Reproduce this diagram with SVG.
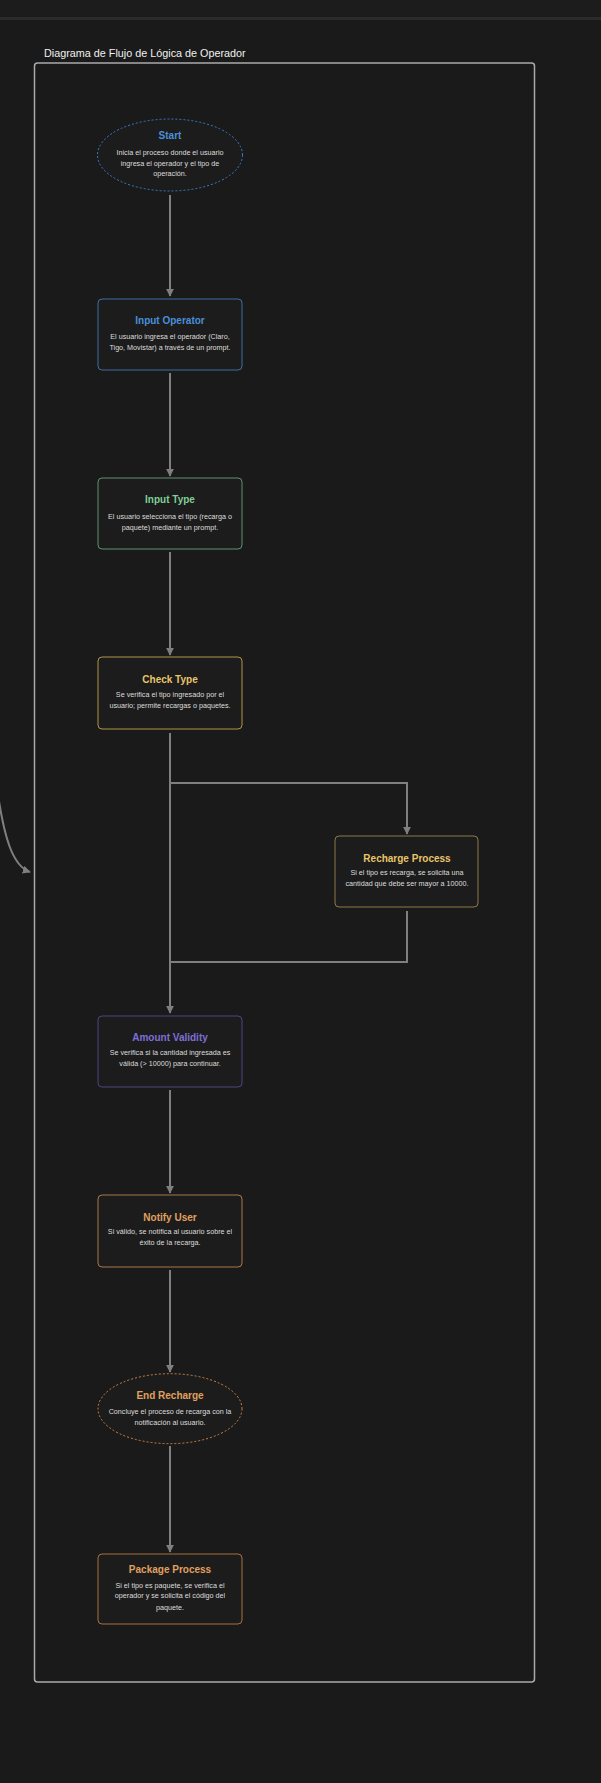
<svg xmlns="http://www.w3.org/2000/svg" width="601" height="1783" viewBox="0 0 601 1783">
<style>
.t{font-family:"Liberation Sans",Arial,sans-serif;font-weight:bold;font-size:10px;text-anchor:middle}
.b{font-family:"Liberation Sans",Arial,sans-serif;font-size:7.2px;fill:#dcdcdc;text-anchor:middle}
.box{fill:#1c1c1c;stroke-width:0.9}
.e{stroke:#7f7f7f;stroke-width:2;fill:none}
</style>
<defs>
<marker id="ah" viewBox="0 0 10 10" refX="9" refY="5" markerWidth="4" markerHeight="4" orient="auto-start-reverse">
<path d="M0,0 L10,5 L0,10 z" fill="#7f7f7f"/>
</marker>
</defs>
<rect x="0" y="0" width="601" height="1783" fill="#1a1a1a"/>
<rect x="0" y="0" width="601" height="17" fill="#1c1c1c"/>
<rect x="0" y="17" width="601" height="3" fill="#2b2b2b"/>
<text x="44" y="57" font-family="Liberation Sans,Arial,sans-serif" font-size="10.8" fill="#f0f0f0">Diagrama de Flujo de Lógica de Operador</text>
<rect x="34.5" y="63" width="500" height="1619" rx="3" fill="none" stroke="#aaaaaa" stroke-width="1.5"/>

<g id="connectors">
<path class="e" d="M170,195 V296" marker-end="url(#ah)"/>
<path class="e" d="M170,373 V476" marker-end="url(#ah)"/>
<path class="e" d="M170,552 V655" marker-end="url(#ah)"/>
<path class="e" d="M170,733 V1013" marker-end="url(#ah)"/>
<path class="e" d="M170,783 H407 V834" marker-end="url(#ah)"/>
<path class="e" d="M407,911 V962 H170 V1013"/>
<path class="e" d="M170,1090 V1193" marker-end="url(#ah)"/>
<path class="e" d="M170,1270 V1372" marker-end="url(#ah)"/>
<path class="e" d="M170,1446 V1552" marker-end="url(#ah)"/>
<path class="e" d="M-2,795 C4,835 12,866 30,872" marker-end="url(#ah)"/>
</g>

<g id="start">
<ellipse cx="170" cy="155" rx="72.5" ry="36" fill="#1c1c1c" stroke="#3d7cc9" stroke-width="1" stroke-dasharray="2,2"/>
<text class="t" x="170" y="139" fill="#4a8fd8">Start</text>
<text class="b" x="170" y="155">Inicia el proceso donde el usuario</text>
<text class="b" x="170" y="165.5">ingresa el operador y el tipo de</text>
<text class="b" x="170" y="176">operación.</text>
</g>

<g id="input-operator">
<rect class="box" x="98" y="299" width="144" height="71" rx="4" stroke="#4677b0"/>
<text class="t" x="170" y="324" fill="#4a8fd8">Input Operator</text>
<text class="b" x="170" y="339.3">El usuario ingresa el operador (Claro,</text>
<text class="b" x="170" y="350">Tigo, Movistar) a través de un prompt.</text>
</g>

<g id="input-type">
<rect class="box" x="98" y="478" width="144" height="71" rx="4" stroke="#67a07e"/>
<text class="t" x="170" y="503.3" fill="#7fcf96">Input Type</text>
<text class="b" x="170" y="519">El usuario selecciona el tipo (recarga o</text>
<text class="b" x="170" y="529.5">paquete) mediante un prompt.</text>
</g>

<g id="check-type">
<rect class="box" x="98" y="657" width="144" height="72" rx="4" stroke="#c2a24c"/>
<text class="t" x="170" y="682.7" fill="#e9c46a">Check Type</text>
<text class="b" x="170" y="696.7">Se verifica el tipo ingresado por el</text>
<text class="b" x="170" y="707.5">usuario; permite recargas o paquetes.</text>
</g>

<g id="recharge-process">
<rect class="box" x="335" y="836" width="143" height="71" rx="4" stroke="#9a854a"/>
<text class="t" x="407" y="861.7" fill="#e9c46a">Recharge Process</text>
<text class="b" x="407" y="875">Si el tipo es recarga, se solicita una</text>
<text class="b" x="407" y="885.7">cantidad que debe ser mayor a 10000.</text>
</g>

<g id="amount-validity">
<rect class="box" x="98" y="1016" width="144" height="71" rx="4" stroke="#54498a"/>
<text class="t" x="170" y="1040.7" fill="#7e6fd6">Amount Validity</text>
<text class="b" x="170" y="1055">Se verifica si la cantidad ingresada es</text>
<text class="b" x="170" y="1065.7">válida (&gt; 10000) para continuar.</text>
</g>

<g id="notify-user">
<rect class="box" x="98" y="1195" width="144" height="72" rx="4" stroke="#b8844f"/>
<text class="t" x="170" y="1220.7" fill="#e0a060">Notify User</text>
<text class="b" x="170" y="1234.3">Si válido, se notifica al usuario sobre el</text>
<text class="b" x="170" y="1245">éxito de la recarga.</text>
</g>

<g id="end-recharge">
<ellipse cx="170" cy="1408.7" rx="72" ry="35" fill="#1c1c1c" stroke="#c8874a" stroke-width="1" stroke-dasharray="2,2"/>
<text class="t" x="170" y="1399.3" fill="#e0a060">End Recharge</text>
<text class="b" x="170" y="1414.3">Concluye el proceso de recarga con la</text>
<text class="b" x="170" y="1425">notificación al usuario.</text>
</g>

<g id="package-process">
<rect class="box" x="98" y="1554" width="144" height="70" rx="4" stroke="#b87a3e"/>
<text class="t" x="170" y="1573.3" fill="#e0a060">Package Process</text>
<text class="b" x="170" y="1587.7">Si el tipo es paquete, se verifica el</text>
<text class="b" x="170" y="1598.3">operador y se solicita el código del</text>
<text class="b" x="170" y="1610">paquete.</text>
</g>
</svg>
